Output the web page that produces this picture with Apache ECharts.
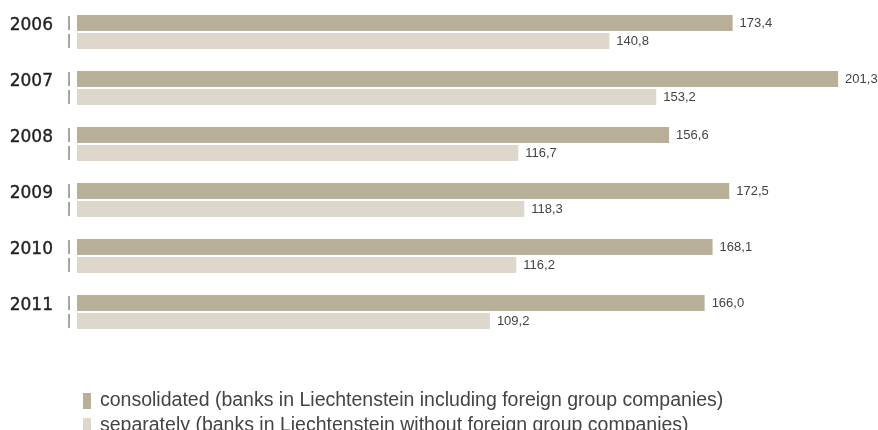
<!DOCTYPE html>
<html>
<head>
<meta charset="utf-8">
<script src="https://cdn.jsdelivr.net/npm/echarts@6/dist/echarts.min.js"></script>
<style>
  html, body { margin: 0; padding: 0; background: #fff; }
  #chart { width: 878px; height: 430px; }
</style>
</head>
<body>
<div id="chart"></div>
<script>
// Balance sheet totals of Liechtenstein banks (CHF billion)
const years = ['2006', '2007', '2008', '2009', '2010', '2011'];
const consolidated = [173.4, 201.3, 156.6, 172.5, 168.1, 166.0];
const separately = [140.8, 153.2, 116.7, 118.3, 116.2, 109.2];
const seriesNames = [
  'consolidated (banks in Liechtenstein including foreign group companies)',
  'separately (banks in Liechtenstein without foreign group companies)'
];

const darkColor = '#b8af98';
const lightColor = '#ded8cc';
const fontFamily = '"Liberation Sans", Arial, Helvetica, sans-serif';

const fmt = v => v.toFixed(1).replace('.', ',');

// short vertical marks to the left of each bar
const markData = years.map(y => [0, y]);

const chart = echarts.init(document.getElementById('chart'), null, { renderer: 'canvas' });

const valueLabel = {
  show: true, position: 'right', distance: 7,
  fontSize: 13, color: '#444', fontFamily,
  formatter: p => fmt(p.value)
};

// one legend block per series, stacked below the bars
const legendBlock = (name, top) => ({
  orient: 'vertical',
  left: 78,
  top,
  itemWidth: 8,
  itemHeight: 16,
  icon: 'rect',
  data: [name],
  selectedMode: false,
  textStyle: { fontSize: 19.5, color: '#444', fontFamily, padding: [0, 0, 0, 4] }
});

chart.setOption({
  animation: false,
  textStyle: { fontFamily },
  grid: { left: 77, top: 4, width: 794, height: 336, containLabel: false },
  xAxis: {
    type: 'value', min: 0, max: 210,
    show: false
  },
  yAxis: {
    type: 'category',
    data: years,
    inverse: true,
    axisLine: { show: false },
    axisTick: { show: false },
    splitLine: { show: false },
    axisLabel: {
      margin: 24,
      fontSize: 17,
      color: '#222',
      fontFamily: '"DejaVu Sans", sans-serif',
      textBorderColor: '#222',
      textBorderWidth: 0.35,
      // sit the year beside the upper bar of its pair
      verticalAlign: 'bottom',
      lineHeight: 13
    }
  },
  legend: [legendBlock(seriesNames[0], 386), legendBlock(seriesNames[1], 411)],
  series: [
    {
      name: seriesNames[0],
      type: 'bar',
      data: consolidated,
      barWidth: 16,
      barGap: '12.5%',
      itemStyle: { color: darkColor },
      label: valueLabel
    },
    {
      name: seriesNames[1],
      type: 'bar',
      data: separately,
      barWidth: 16,
      barGap: '12.5%',
      itemStyle: { color: lightColor },
      label: valueLabel
    },
    {
      type: 'scatter',
      data: markData,
      symbol: 'rect',
      symbolSize: [1, 14],
      symbolOffset: [-8, -9],
      itemStyle: { color: '#222' },
      silent: true,
      z: 1
    },
    {
      type: 'scatter',
      data: markData,
      symbol: 'rect',
      symbolSize: [1, 14],
      symbolOffset: [-8, 9],
      itemStyle: { color: '#222' },
      silent: true,
      z: 1
    }
  ]
});
</script>
</body>
</html>
